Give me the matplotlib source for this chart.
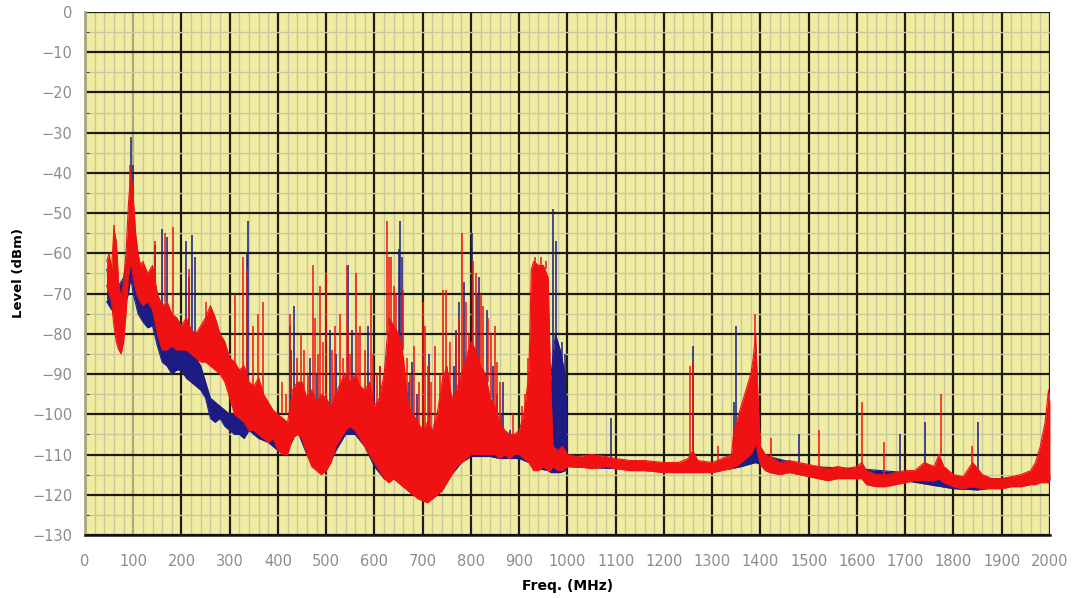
import numpy as np
import matplotlib.pyplot as plt

# red trace: band envelope (MHz, dBm)
red_freq = [45, 50, 55, 60, 65, 70, 75, 80, 85, 90, 95, 100, 105, 110, 115, 120, 130, 140,
            150, 160, 170, 180, 190, 200, 210, 220, 230, 240, 250, 260, 270, 280, 290,
            300, 310, 320, 330, 340, 350, 360, 370, 380, 390, 400, 410, 420, 430, 440,
            450, 460, 470, 480, 490, 500, 510, 520, 530, 540, 550, 560, 570, 580, 590,
            600, 610, 620, 630, 640, 650, 660, 670, 680, 690, 700, 710, 720, 730, 740,
            750, 760, 770, 780, 790, 800, 810, 820, 830, 840, 850, 860, 870, 880, 890,
            900, 910, 920, 925, 930, 940, 950, 960, 965, 970, 980, 990, 1000,
            1020, 1050, 1080, 1100, 1130, 1160, 1200, 1230, 1250, 1260, 1270, 1300,
            1320, 1340, 1345, 1350, 1360, 1370, 1380, 1385, 1390, 1395, 1400, 1410,
            1420, 1440, 1460, 1480, 1500, 1520, 1540, 1560, 1580, 1600, 1610, 1620,
            1640, 1660, 1680, 1700, 1720, 1740, 1760, 1770, 1780, 1800, 1820, 1840,
            1860, 1880, 1900, 1920, 1940, 1960, 1970, 1980, 1990, 1997, 2000]
red_top = [-62, -60, -64, -54, -57, -68, -71, -67, -60, -48, -40, -46, -55, -60, -63, -62, -65, -63,
           -70, -73, -72, -75, -76, -78, -76, -79, -80, -78, -76, -73, -76, -80, -82,
           -86, -87, -89, -88, -92, -93, -91, -95, -97, -99, -100, -101, -102, -94, -92,
           -92, -96, -94, -97, -95, -96, -98, -95, -92, -90, -92, -90, -93, -94, -92,
           -98, -96, -90, -76, -78, -80, -86, -98, -100, -102, -104, -102, -104, -100, -92,
           -88, -96, -94, -90, -86, -82, -84, -88, -90, -96, -98, -102, -104, -105, -105,
           -104, -100, -90, -64, -62, -63, -63, -66, -92, -108, -109, -108, -110,
           -110.5, -110, -110.5, -111, -111.5, -111.5, -112, -112, -111, -109, -111.5, -112,
           -111, -110, -104, -102, -98, -94, -90, -86, -80, -96, -108, -110,
           -110.5, -112, -111.5, -112, -112.5, -113, -113.5, -113, -113.5, -113, -112, -114,
           -115, -115, -114.5, -114, -114, -112, -113, -110, -113, -115, -115.5, -112,
           -115, -116, -116, -115.5, -115, -114, -112, -108, -102, -94, -97]
red_bottom = [-68, -70, -72, -78, -82, -84, -85, -82, -75, -66, -62, -66, -69, -71, -72, -73, -72, -74,
              -80, -84, -84, -83, -84, -84, -84, -85, -86, -87, -87, -88, -89, -90, -92,
              -96, -100, -101, -102, -104, -104, -105, -106, -107, -106, -109, -110, -110, -106, -105,
              -106, -110, -113, -114, -115, -114, -112, -108, -106, -104, -103, -104, -106, -108, -110,
              -112, -114, -116, -117, -116, -117, -118, -119, -120, -121, -121.5, -122, -121, -120, -119,
              -117, -115, -113, -112, -111, -110, -110, -110, -110, -110, -110, -111, -110, -111, -110,
              -110, -111, -112, -113, -114, -114, -113, -114, -114, -113, -114, -114, -113,
              -113, -113.5, -113, -113.5, -114, -114, -114.5, -114.5, -114.5, -114.5, -114.5, -114.5,
              -114, -113.5, -113, -113, -112, -111, -110, -109, -107, -110, -112.5, -114,
              -114.5, -115, -114.5, -115, -115.5, -116, -116.5, -116, -116, -116, -116, -117.5,
              -118, -118, -117.5, -117, -116.5, -116.5, -116.5, -116, -117, -118, -118.5, -118,
              -118.5, -118.5, -118.5, -118, -118, -117.5, -117.5, -117, -117, -117, -116]

# red narrow peaks: frequency, peak level, level the peak rises from
red_spike_freq = [60, 93, 100, 145, 165, 183, 215, 250, 310, 328, 335, 348, 358, 370, 409, 416,
                  425, 440, 447, 454, 462, 472, 476, 482, 488, 494, 499, 512, 515, 519, 528,
                  535, 543, 546, 550, 561, 566, 571, 580, 592, 597, 605, 612, 626, 630, 635,
                  640, 645, 660, 667, 673, 681, 692, 700, 705, 710, 718, 726, 735, 743, 749,
                  756, 770, 775, 781, 790, 795, 805, 810, 820, 826, 836, 842, 850, 855, 860,
                  887, 905, 912, 919, 933, 945, 955, 1255, 1260, 1311, 1389, 1422, 1521, 1611,
                  1656, 1775, 1838]
red_spike_top = [-53, -38, -42, -57, -55, -53.5, -64, -72, -70, -61, -64, -78, -75, -72, -92, -95,
                 -75, -86, -80, -84, -90, -63, -76, -85, -68, -82, -65, -84, -90, -78, -75,
                 -86, -63, -79, -85, -65, -80, -78, -84, -70, -85, -90, -88, -52, -61, -61,
                 -68, -70, -69, -86, -90, -83, -92, -72, -78, -88, -92, -83, -90, -69, -69,
                 -82, -80, -76, -55, -72, -80, -62, -65, -70, -73, -76, -80, -78, -87, -92,
                 -100, -98, -95, -86, -61, -61, -62, -88, -87, -108, -75, -106, -104, -97,
                 -107, -95, -108]
red_spike_base = [-60, -50, -50, -65, -72, -75, -78, -78, -88, -90, -90, -93, -93, -95, -100, -100,
                  -95, -95, -95, -95, -98, -96, -96, -98, -98, -98, -98, -100, -100, -97, -96,
                  -94, -92, -92, -94, -92, -94, -95, -96, -94, -96, -99, -98, -80, -78, -78,
                  -80, -82, -84, -100, -100, -102, -104, -104, -104, -103, -104, -104, -102, -92, -90,
                  -96, -95, -92, -90, -88, -86, -84, -84, -88, -90, -92, -96, -98, -100, -103,
                  -106, -104, -102, -100, -64, -64, -64, -112, -110, -112, -82, -111, -113, -113,
                  -115, -110, -113]

# blue trace: band envelope
blue_freq = [45, 50, 55, 60, 70, 80, 90, 95, 100, 110, 120, 130, 140, 150, 160, 170, 180, 190,
             200, 210, 220, 230, 240, 250, 260, 270, 280, 290, 300, 310, 320, 330, 340, 350,
             360, 380, 400, 420, 440, 460, 480, 500, 520, 540, 560, 580, 600, 620, 640, 660,
             680, 700, 720, 740, 760, 780, 800, 820, 840, 860, 880, 900, 920, 940, 960, 966,
             975, 985, 995, 1000, 1100, 1200, 1300, 1340, 1360, 1390, 1400, 1500, 1600,
             1700, 1800, 1850, 1900, 2000]
blue_top = [-64, -66, -68, -66, -68, -66, -60, -46, -50, -68, -70, -71, -70, -74, -78, -80, -82, -82,
            -83, -84, -84, -86, -88, -92, -96, -97, -98, -99, -100, -100, -101, -100, -101, -101,
            -102, -102, -103, -104, -100, -104, -106, -106, -104, -100, -100, -102, -104, -106, -104, -106,
            -108, -108, -108, -106, -106, -104, -104, -105, -106, -106, -106, -106, -106, -106, -104, -90,
            -80, -84, -90, -110.5, -111.5, -112.5, -112.5, -111, -104, -100, -110, -113, -113.5,
            -114.5, -116, -116, -116, -115]
blue_bottom = [-72, -73, -74, -74, -76, -74, -70, -66, -70, -75, -77, -78.5, -78, -83, -87, -88, -90, -89,
               -89, -91, -92, -93, -94, -96, -101, -102, -101, -103, -104, -105, -105, -106, -104, -105,
               -106, -107, -109, -109, -104, -110, -113, -114, -109, -105, -105, -108, -113, -116, -116, -118,
               -120, -121, -121, -119, -115, -112, -110.5, -110.5, -110.5, -111, -111, -111, -112, -113.5, -114, -114.5,
               -114.5, -114.5, -114, -113, -113.5, -114, -114, -113.5, -113, -112, -112.5, -114.5, -115.5,
               -116.5, -118.5, -118.8, -118, -116.5]

blue_spike_freq = [95, 100, 145, 159, 170, 210, 215, 221, 228, 336, 338, 424, 428, 434, 467, 480,
                   507, 520, 545, 554, 586, 600, 612, 650, 652, 657, 672, 678, 688, 714, 735,
                   764, 768, 776, 786, 802, 812, 816, 833, 845, 855, 862, 867, 875, 880,
                   971, 976, 988, 995, 998, 1090, 1260, 1346, 1349, 1480, 1690, 1741, 1850]
blue_spike_top = [-31, -38, -58, -54, -56, -57, -66, -55.5, -61, -60, -52, -78, -84, -73, -86, -90,
                  -79, -85, -63, -79, -78, -92, -88, -59, -52, -61, -92, -87, -95, -85, -98,
                  -88, -79, -72, -67, -55, -70, -66, -74, -88, -95, -100, -92, -105, -104,
                  -49, -57, -82, -85, -95, -101, -83, -97, -78, -105, -105, -102, -102]
blue_spike_base = [-50, -55, -70, -75, -78, -82, -82, -83, -85, -98, -98, -100, -100, -100, -104, -104,
                   -100, -100, -100, -100, -100, -104, -104, -100, -100, -100, -105, -105, -105, -105, -108,
                   -104, -104, -104, -104, -104, -104, -104, -104, -106, -106, -106, -106, -108, -108,
                   -90, -90, -90, -92, -100, -111, -112, -110, -105, -112, -114, -114, -115]

x_ticks = list(range(0, 2001, 100))
y_ticks = list(range(-130, 1, 10))

RED = '#f01212'
BLUE = '#1c1c84'

fig = plt.figure(figsize=(10.74, 5.98), dpi=100)
ax = fig.add_axes([0.0791, 0.1054, 0.8985, 0.8746])
ax.set_facecolor('#f0eda2')
ax.set_xlim(0, 2000)
ax.set_ylim(-130, 0)

ax.set_xticks(x_ticks)
ax.set_yticks(y_ticks)
ax.set_xticks(range(0, 2001, 20), minor=True)
ax.set_yticks(range(-130, 1, 5), minor=True)
ax.grid(which='minor', color='#cac7a0', lw=1.0)
ax.grid(which='major', color='#1e1c10', lw=1.6)
ax.get_xgridlines()[1].set_color('#a9a680')
ax.set_axisbelow(True)

for s in ['top', 'right']:
    ax.spines[s].set_visible(False)
ax.spines['left'].set_color('#a9a680')
ax.spines['left'].set_linewidth(2)
ax.spines['bottom'].set_color('#111111')
ax.spines['bottom'].set_linewidth(1.8)

ax.tick_params(which='major', length=0, labelsize=10.5, labelcolor='#8c8c8c')
ax.tick_params(axis='x', which='major', pad=14)
ax.tick_params(axis='y', which='major', pad=9)
ax.tick_params(axis='x', which='minor', length=0)
ax.tick_params(axis='y', which='minor', length=3, direction='in', color='#222222')

# blue first, red drawn over it
ax.fill_between(blue_freq, blue_bottom, blue_top, color=BLUE, lw=0, zorder=2)
ax.plot(blue_freq, blue_top, color=BLUE, lw=0.8, zorder=2)
ax.plot(blue_freq, blue_bottom, color=BLUE, lw=0.8, zorder=2)
ax.vlines(blue_spike_freq, blue_spike_base, blue_spike_top, color=BLUE, lw=1.1, zorder=2)

ax.fill_between(red_freq, red_bottom, red_top, color=RED, lw=0, zorder=3)
ax.plot(red_freq, red_top, color=RED, lw=0.8, zorder=3)
ax.plot(red_freq, red_bottom, color=RED, lw=0.8, zorder=3)
ax.vlines(red_spike_freq, red_spike_base, red_spike_top, color=RED, lw=1.1, zorder=3)

ax.set_xlabel('Freq. (MHz)', fontweight='bold', fontsize=10, labelpad=7)
ax.set_ylabel('Level (dBm)', fontweight='bold', fontsize=9.5, labelpad=5)

fig.savefig('out.png', dpi=100)
